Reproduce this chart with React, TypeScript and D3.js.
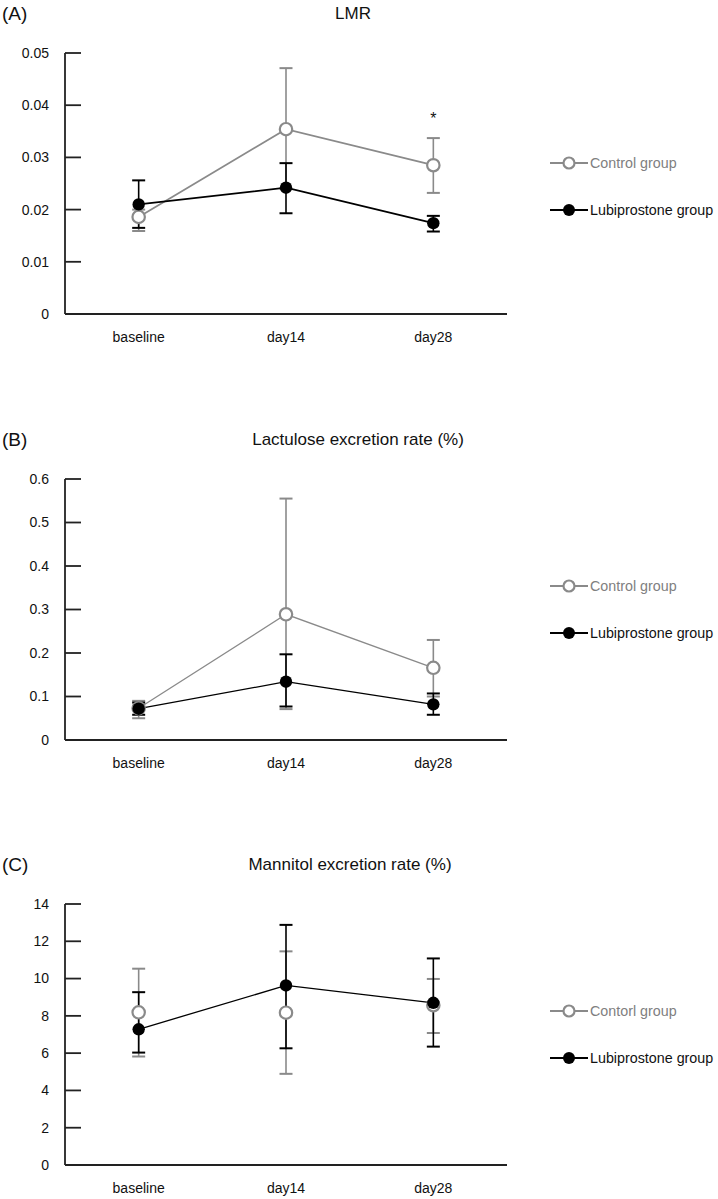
import React from "react";
import * as d3 from "d3";

const categories = ["baseline", "day14", "day28"];

// Panel A: LMR
const lmrControl = [0.0186, 0.0354, 0.0285];
const lmrControlHi = [0.0200, 0.0471, 0.0337];
const lmrControlLo = [0.0159, 0.0240, 0.0232];
const lmrLubi = [0.0210, 0.0242, 0.0174];
const lmrLubiHi = [0.0256, 0.0289, 0.0188];
const lmrLubiLo = [0.0165, 0.0193, 0.0158];
const lmrTicks = [0, 0.01, 0.02, 0.03, 0.04, 0.05];
const lmrTickLabels = ["0", "0.01", "0.02", "0.03", "0.04", "0.05"];

// Panel B: Lactulose excretion rate
const lacControl = [0.073, 0.289, 0.166];
const lacControlHi = [0.090, 0.555, 0.230];
const lacControlLo = [0.050, 0.071, 0.100];
const lacLubi = [0.072, 0.134, 0.082];
const lacLubiHi = [0.086, 0.197, 0.107];
const lacLubiLo = [0.058, 0.077, 0.058];
const lacTicks = [0, 0.1, 0.2, 0.3, 0.4, 0.5, 0.6];
const lacTickLabels = ["0", "0.1", "0.2", "0.3", "0.4", "0.5", "0.6"];

// Panel C: Mannitol excretion rate
const manControl = [8.19, 8.17, 8.57];
const manControlHi = [10.53, 11.46, 9.98];
const manControlLo = [5.82, 4.89, 7.08];
const manLubi = [7.28, 9.63, 8.70];
const manLubiHi = [9.27, 12.88, 11.08];
const manLubiLo = [6.03, 6.26, 6.35];
const manTicks = [0, 2, 4, 6, 8, 10, 12, 14];
const manTickLabels = ["0", "2", "4", "6", "8", "10", "12", "14"];

const FONT = "'Liberation Sans', Arial, sans-serif";
const GRAY = "#8a8a8a";
const BLACK = "#000";

type Series = { v: number[]; hi: number[]; lo: number[] };

type PanelProps = {
  top: number;
  label: string;
  title: string;
  titleX: number;
  yMax: number;
  ticks: number[];
  tickLabels: string[];
  control: Series;
  lubi: Series;
  controlName: string;
  controlLine: boolean;
  lineWidth: number;
  star?: number;
  legendDy: number;
};

function Panel(p: PanelProps) {
  const left = 65;
  const right = 507;
  const plotTop = p.top + 40;
  const plotBottom = plotTop + 261;
  const x = d3.scaleBand<string>().domain(categories).range([left, right]);
  const cx = (c: string) => (x(c) as number) + x.bandwidth() / 2;
  const y = d3.scaleLinear().domain([0, p.yMax]).range([plotBottom, plotTop]);
  const lineGen = d3
    .line<number>()
    .x((_d, i) => cx(categories[i]))
    .y((d) => y(d));
  const r = 6.2;
  const cap = 6.5;

  const errBars = (s: Series, color: string, w: number) =>
    categories.map((c, i) => (
      <g key={c} stroke={color} strokeWidth={w}>
        <line x1={cx(c)} x2={cx(c)} y1={y(s.hi[i])} y2={y(s.lo[i])} strokeWidth={1.6} />
        <line x1={cx(c) - cap} x2={cx(c) + cap} y1={y(s.hi[i])} y2={y(s.hi[i])} />
        <line x1={cx(c) - cap} x2={cx(c) + cap} y1={y(s.lo[i])} y2={y(s.lo[i])} />
      </g>
    ));

  const legY1 = plotTop + p.legendDy;
  const legY2 = legY1 + 47;

  return (
    <g>
      <text x={2} y={p.top + 7} fontSize={19} fontFamily={FONT} fill="#111">
        {p.label}
      </text>
      <text x={p.titleX} y={p.top + 6} fontSize={17} fontFamily={FONT} textAnchor="middle" fill="#111">
        {p.title}
      </text>
      {/* axes */}
      <line x1={left} x2={left} y1={plotTop} y2={plotBottom} stroke="#222" strokeWidth={1.8} />
      <line x1={left} x2={right} y1={plotBottom} y2={plotBottom} stroke="#222" strokeWidth={1.8} />
      {p.ticks.map((t, i) => (
        <g key={t}>
          <line x1={left} x2={left + 16} y1={y(t)} y2={y(t)} stroke="#222" strokeWidth={1.8} />
          <text x={49} y={y(t)} dy="0.35em" textAnchor="end" fontSize={14} fontFamily={FONT} fill="#111">
            {p.tickLabels[i]}
          </text>
        </g>
      ))}
      {categories.map((c) => (
        <text key={c} x={cx(c)} y={plotBottom + 28} textAnchor="middle" fontSize={14} fontFamily={FONT} fill="#111">
          {c}
        </text>
      ))}
      {/* control */}
      {errBars(p.control, GRAY, 2)}
      {p.controlLine && (
        <path d={lineGen(p.control.v) || ""} fill="none" stroke={GRAY} strokeWidth={p.lineWidth} />
      )}
      {/* lubiprostone */}
      {errBars(p.lubi, BLACK, 2)}
      <path d={lineGen(p.lubi.v) || ""} fill="none" stroke={BLACK} strokeWidth={p.lineWidth} />
      {categories.map((c, i) => (
        <circle key={"c" + c} cx={cx(c)} cy={y(p.control.v[i])} r={r} fill="#fff" stroke={GRAY} strokeWidth={2.2} />
      ))}
      {categories.map((c, i) => (
        <circle key={"l" + c} cx={cx(c)} cy={y(p.lubi.v[i])} r={r} fill={BLACK} />
      ))}
      {p.star !== undefined && (
        <text x={cx(categories[p.star])} y={y(p.control.hi[p.star]) - 14} textAnchor="middle" fontSize={16} fontFamily={FONT} fill="#111">
          *
        </text>
      )}
      {/* legend */}
      <g>
        <line x1={550} x2={588} y1={legY1} y2={legY1} stroke={GRAY} strokeWidth={2} />
        <circle cx={569} cy={legY1} r={5.5} fill="#fff" stroke={GRAY} strokeWidth={2.2} />
        <text x={590} y={legY1} dy="0.35em" fontSize={14.3} fontFamily={FONT} fill="#808080">
          {p.controlName}
        </text>
        <line x1={550} x2={588} y1={legY2} y2={legY2} stroke={BLACK} strokeWidth={2} />
        <circle cx={569} cy={legY2} r={6} fill={BLACK} />
        <text x={590} y={legY2} dy="0.35em" fontSize={14.3} fontFamily={FONT} fill="#111">
          Lubiprostone group
        </text>
      </g>
    </g>
  );
}

export default function App() {
  return (
    <svg
      width={718}
      height={1199}
      style={{ position: "absolute", left: 0, top: 0, background: "#fff" }}
    >
      <rect width={718} height={1199} fill="#fff" />
      <Panel
        top={13}
        label="(A)"
        title="LMR"
        titleX={353}
        yMax={0.05}
        ticks={lmrTicks}
        tickLabels={lmrTickLabels}
        control={{ v: lmrControl, hi: lmrControlHi, lo: lmrControlLo }}
        lubi={{ v: lmrLubi, hi: lmrLubiHi, lo: lmrLubiLo }}
        controlName="Control group"
        controlLine={true}
        lineWidth={1.8}
        star={2}
        legendDy={110}
      />
      <Panel
        top={439}
        label="(B)"
        title="Lactulose excretion rate (%)"
        titleX={358}
        yMax={0.6}
        ticks={lacTicks}
        tickLabels={lacTickLabels}
        control={{ v: lacControl, hi: lacControlHi, lo: lacControlLo }}
        lubi={{ v: lacLubi, hi: lacLubiHi, lo: lacLubiLo }}
        controlName="Control group"
        controlLine={true}
        lineWidth={1.3}
        legendDy={107}
      />
      <Panel
        top={864}
        label="(C)"
        title="Mannitol excretion rate (%)"
        titleX={350}
        yMax={14}
        ticks={manTicks}
        tickLabels={manTickLabels}
        control={{ v: manControl, hi: manControlHi, lo: manControlLo }}
        lubi={{ v: manLubi, hi: manLubiHi, lo: manLubiLo }}
        controlName="Contorl group"
        controlLine={false}
        lineWidth={1.3}
        legendDy={107}
      />
    </svg>
  );
}
